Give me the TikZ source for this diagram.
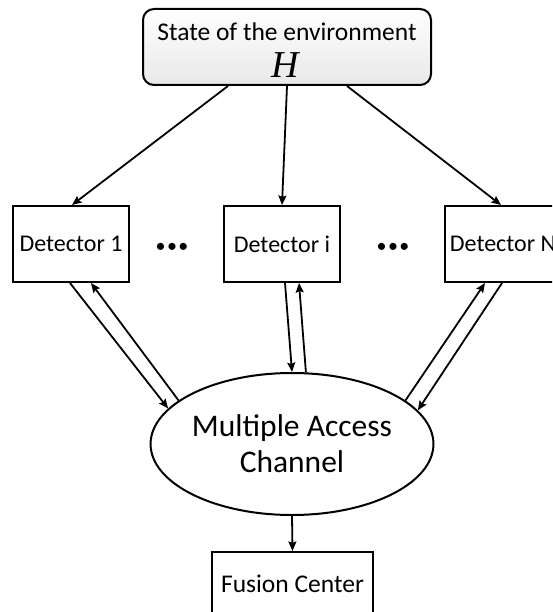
\documentclass[tikz,border=0pt]{standalone}
\usepackage{fontspec}
\setmainfont{Carlito}
\newfontfamily\timesfont{Liberation Serif}
\usetikzlibrary{arrows.meta,shapes.geometric}
\begin{document}
\begin{tikzpicture}[x=1pt,y=-1pt,
  box/.style={draw,line width=2pt,inner sep=0pt,font=\fontsize{24}{28}\selectfont},
  detbox/.style={box,minimum width=116pt,minimum height=76pt},
  conn/.style={line width=1.8pt,-{Stealth[length=9.5pt,width=8pt,inset=1.5pt]}},
  lbl/.style={inner sep=0pt,anchor=base},
  dotsnode/.style={inner sep=0pt,font=\fontsize{20}{20}\selectfont}
]
\useasboundingbox (0,0) rectangle (552,612);
\clip (0,0) rectangle (552,612);

% top box
\node[draw,line width=2pt,rounded corners=11pt,top color=white,bottom color=gray!18,
      minimum width=288pt,minimum height=76pt,inner sep=0pt] (env) at (287,47) {};
\node[lbl,font=\fontsize{25.5}{30}\selectfont] (envt) at (287,41) {State of the environment};
\node[lbl,font=\timesfont\itshape\fontsize{38}{40}\selectfont] (envh) at (285,78) {H};

% detectors
\node[detbox] (d1) at (71,244) {Detector 1};
\node[detbox] (di) at (282,244) {Detector i};
\node[detbox] (dN) at (503,244) {Detector N};
\node[dotsnode] (dots1) at (172,248) {•\hspace{1.5pt}•\hspace{1.5pt}•};
\node[dotsnode] (dots2) at (393,248) {•\hspace{1.5pt}•\hspace{1.5pt}•};

% channel
\node[draw,line width=2pt,ellipse,minimum width=280pt,minimum height=142pt,inner sep=0pt,
      align=center,font=\fontsize{31.5}{36}\selectfont] (mac) at (292,444) {Multiple Access\\Channel};

% fusion center
\node[box,minimum width=161pt,minimum height=64pt,font=\fontsize{25.5}{30}\selectfont] (fc) at (292.5,584) {Fusion Center};

% connectors from environment
\draw[conn] ([xshift=-59pt]env.south) -- ([xshift=1pt]d1.north);
\draw[conn] (env.south) -- (di.north);
\draw[conn] ([xshift=60pt]env.south) -- ([xshift=-2pt]dN.north);

% detector <-> channel
\draw[conn] ([xshift=-1pt]d1.south) -- (mac.164.8);
\draw[conn] (mac.159.9) -- ([xshift=20pt]d1.south);
\draw[conn] ([xshift=3pt]di.south) -- (mac.90.8);
\draw[conn] (mac.79.6) -- ([xshift=17pt]di.south);
\draw[conn] ([xshift=-1pt]dN.south) -- (mac.15.9);
\draw[conn] (mac.21.8) -- ([xshift=-18pt]dN.south);

% channel -> fusion
\draw[conn] (mac.south) -- (fc.north);
\end{tikzpicture}
\end{document}
